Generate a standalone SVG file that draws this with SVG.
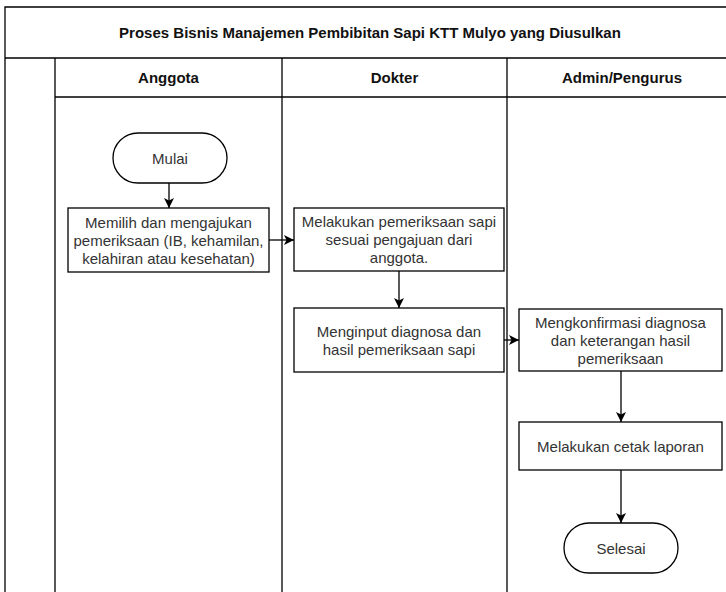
<svg xmlns="http://www.w3.org/2000/svg" width="726" height="592" viewBox="0 0 726 592">
  <style>
    .line { stroke: #000; stroke-width: 1.3; fill: none; }
    .box { fill: #fff; stroke: #000; stroke-width: 1.3; }
    .head { font-family: "Liberation Sans", Arial, sans-serif; font-size: 15px; font-weight: bold; fill: #111; text-anchor: middle; }
    .lbl { font-family: "Liberation Sans", Arial, sans-serif; font-size: 15px; fill: #333; text-anchor: middle; }
    .conn { stroke: #000; stroke-width: 1.3; fill: none; marker-end: url(#arrow); }
  </style>
  <defs>
    <marker id="arrow" markerUnits="userSpaceOnUse" markerWidth="11" markerHeight="11" refX="10" refY="5.5" orient="auto">
      <path d="M0,0.5 L10,5.5 L0,10.5 L2.5,5.5 z" fill="#000"/>
    </marker>
  </defs>
  <rect width="726" height="592" fill="#fff"/>

  <!-- pool and lanes -->
  <g id="pool">
    <path class="line" d="M5,592 V7 H726"/>
    <path class="line" d="M5,58 H726"/>
    <path class="line" d="M55,97 H726"/>
    <path class="line" d="M55,58 V592 M282,58 V592 M507,58 V592"/>
    <text class="head" x="370" y="38">Proses Bisnis Manajemen Pembibitan Sapi KTT Mulyo yang Diusulkan</text>
    <text class="head" x="168.5" y="83">Anggota</text>
    <text class="head" x="394.5" y="83">Dokter</text>
    <text class="head" x="622" y="83">Admin/Pengurus</text>
  </g>

  <!-- connectors -->
  <g id="connectors">
    <path class="conn" d="M169,183 V208"/>
    <path class="conn" d="M269,240 H294"/>
    <path class="conn" d="M399,271 V308"/>
    <path class="conn" d="M504,340 H519"/>
    <path class="conn" d="M621,371 V422"/>
    <path class="conn" d="M621,470 V523"/>
  </g>

  <g id="mulai">
    <rect class="box" x="113" y="133" width="114" height="50" rx="25"/>
    <text class="lbl" x="170" y="163.5">Mulai</text>
  </g>

  <g id="memilih">
    <rect class="box" x="68" y="208" width="201" height="64"/>
    <text class="lbl" x="168.5" y="227.5">Memilih dan mengajukan</text>
    <text class="lbl" x="168.5" y="245.5">pemeriksaan (IB, kehamilan,</text>
    <text class="lbl" x="168.5" y="263.5">kelahiran atau kesehatan)</text>
  </g>

  <g id="pemeriksaan">
    <rect class="box" x="294" y="208" width="210" height="63"/>
    <text class="lbl" x="399" y="227">Melakukan pemeriksaan sapi</text>
    <text class="lbl" x="399" y="245">sesuai pengajuan dari</text>
    <text class="lbl" x="399" y="263">anggota.</text>
  </g>

  <g id="input-diagnosa">
    <rect class="box" x="294" y="308" width="210" height="64"/>
    <text class="lbl" x="399" y="336.5">Menginput diagnosa dan</text>
    <text class="lbl" x="399" y="354.5">hasil pemeriksaan sapi</text>
  </g>

  <g id="konfirmasi">
    <rect class="box" x="519" y="309" width="203" height="62"/>
    <text class="lbl" x="620.5" y="327.5">Mengkonfirmasi diagnosa</text>
    <text class="lbl" x="620.5" y="345.5">dan keterangan hasil</text>
    <text class="lbl" x="620.5" y="363.5">pemeriksaan</text>
  </g>

  <g id="cetak-laporan">
    <rect class="box" x="519" y="422" width="203" height="48"/>
    <text class="lbl" x="620.5" y="451.5">Melakukan cetak laporan</text>
  </g>

  <g id="selesai">
    <rect class="box" x="564" y="523" width="114" height="50" rx="25"/>
    <text class="lbl" x="621" y="553.5">Selesai</text>
  </g>
</svg>
